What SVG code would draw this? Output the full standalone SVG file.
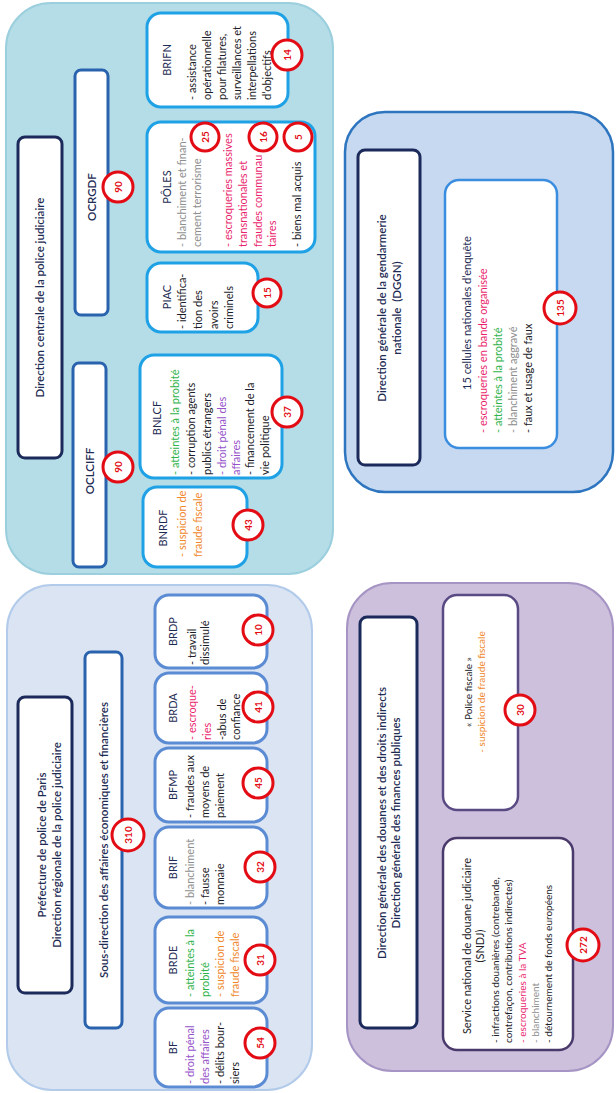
<svg xmlns="http://www.w3.org/2000/svg" width="616" height="1093" viewBox="0 0 616 1093">
<style>
text{font-family:Lato,"Liberation Sans",sans-serif;font-size:11px;fill:#1c1c28}
.m{text-anchor:middle}
.ttl{font-size:11.5px;fill:#1d2b53;font-weight:600}
.hd{font-size:11px;fill:#1d2b53}
.oc{font-size:11.5px;fill:#1d2b53;font-weight:600}
.sm{font-size:10px}
.gr{fill:#8e8e8e}.gn{fill:#2fb34b}.pu{fill:#9552c9}.or{fill:#f0872a}.pk{fill:#ea1f6e}
.tb{fill:#fff;stroke:#1b2a5a;stroke-width:3}
.ob{fill:#fff;stroke:#2a63ad;stroke-width:3}
.cb{fill:#fff;stroke:#1fa1e6;stroke-width:3}
.pb{fill:#fff;stroke:#5b8bd3;stroke-width:3}
.nc circle{fill:#fff;stroke:#e30c14;stroke-width:3}
.nc text{font-size:10px;font-weight:bold;fill:#e30c14;text-anchor:middle}
</style>
<g transform="translate(0,1093) rotate(-90)">
<g id="connectors"/>
<!-- Direction centrale de la police judiciaire -->
<g id="dcpj">
<rect x="519" y="6" width="571" height="327" rx="45" fill="#b5dde7" stroke="#9ccfdd" stroke-width="2"/>
<rect class="tb" x="635" y="18" width="321" height="44" rx="7"/>
<text class="ttl m" x="795.5" y="44">Direction centrale de la police judiciaire</text>
</g>
<g id="ocrgdf">
<rect class="ob" x="778" y="75" width="245" height="33" rx="6"/>
<text class="oc m" x="896" y="95.5">OCRGDF</text>
<g class="nc"><circle cx="906" cy="118" r="15"/><text x="906" y="121.5">90</text></g>
</g>
<g id="oclciff">
<rect class="ob" x="526" y="73" width="204" height="33" rx="6"/>
<text class="oc m" x="622" y="93.5">OCLCIFF</text>
<g class="nc"><circle cx="626" cy="118" r="15"/><text x="626" y="121.5">90</text></g>
</g>
<g id="brifn">
<rect class="cb" x="986" y="147" width="94" height="141" rx="14"/>
<text class="hd m" x="1033" y="171">BRIFN</text>
<text x="993" y="196">- assistance</text>
<text x="993" y="211">opérationnelle</text>
<text x="993" y="226">pour filatures,</text>
<text x="993" y="241">surveillances et</text>
<text x="993" y="256">interpellations</text>
<text x="993" y="271">d’objectifs</text>
<g class="nc"><circle cx="1038" cy="287" r="15"/><text x="1038" y="290.5">14</text></g>
</g>
<g id="poles">
<rect class="cb" x="841" y="147" width="130" height="168" rx="14"/>
<text class="hd m" x="906" y="171">PÔLES</text>
<text class="gr" x="846" y="186">- blanchiment et finan-</text>
<text class="gr" x="846" y="201">cement terrorisme</text>
<text class="pk" x="846" y="232">- escroqueries massives</text>
<text class="pk" x="846" y="247">transnationales et</text>
<text class="pk" x="846" y="262">fraudes communau</text>
<text class="pk" x="846" y="276">taires</text>
<text x="846" y="301">- biens mal acquis</text>
<g class="nc"><circle cx="956" cy="205" r="14"/><text x="956" y="208.5">25</text></g>
<g class="nc"><circle cx="956" cy="263" r="14"/><text x="956" y="266.5">16</text></g>
<g class="nc"><circle cx="956" cy="298" r="14"/><text x="956" y="301.5">5</text></g>
</g>
<g id="piac">
<rect class="cb" x="761" y="147" width="69" height="111" rx="14"/>
<text class="hd m" x="796" y="171">PIAC</text>
<text x="764" y="186">- identifica-</text>
<text x="764" y="202">tion des</text>
<text x="764" y="218">avoirs</text>
<text x="764" y="233">criminels</text>
<g class="nc"><circle cx="800" cy="267" r="14"/><text x="800" y="270.5">15</text></g>
</g>
<g id="bnlcf">
<rect class="cb" x="615" y="140" width="123" height="142" rx="14"/>
<text class="hd m" x="675" y="161">BNLCF</text>
<text class="gn" x="618" y="179">- atteintes à la probité</text>
<text x="618" y="195">- corruption agents</text>
<text x="618" y="211">publics étrangers</text>
<text class="pu" x="618" y="226">- droit pénal des</text>
<text class="pu" x="618" y="240">affaires</text>
<text x="618" y="254">- financement de la</text>
<text x="618" y="269">vie politique</text>
<g class="nc"><circle cx="681" cy="287" r="15"/><text x="681" y="290.5">37</text></g>
</g>
<g id="bnrdf">
<rect class="cb" x="526" y="143" width="80" height="104" rx="14"/>
<text class="hd m" x="565" y="167">BNRDF</text>
<text class="or" x="536" y="186">- suspicion de</text>
<text class="or" x="536" y="202">fraude fiscale</text>
<g class="nc"><circle cx="568" cy="248" r="15"/><text x="568" y="251.5">43</text></g>
</g>
<!-- DGGN -->
<g id="dggn">
<rect x="601" y="345" width="380" height="268" rx="40" fill="#c6d9f0" stroke="#2e75c0" stroke-width="2.5"/>
<rect class="tb" x="628" y="358" width="315" height="62" rx="7"/>
<text class="ttl m" x="785" y="386">Direction générale de la gendarmerie</text>
<text class="ttl m" x="785" y="401" style="white-space:pre">nationale  (DGGN)</text>
</g>
<g id="cellules">
<rect x="645" y="445" width="268" height="112" rx="14" fill="#fff" stroke="#3b8de0" stroke-width="2.5"/>
<text class="hd m" x="780" y="471">15 cellules nationales d’enquête</text>
<text class="pk" x="660" y="487">- escroqueries en bande organisée</text>
<text class="gn" x="660" y="502">- atteintes à la probité</text>
<text class="gr" x="660" y="517">- blanchiment aggravé</text>
<text x="660" y="532">- faux et usage de faux</text>
<g class="nc"><circle cx="785" cy="560" r="16"/><text x="785" y="563.5">135</text></g>
</g>
<!-- Préfecture de police de Paris -->
<g id="prefecture">
<rect x="3" y="7" width="505" height="305" rx="45" fill="#dae4f2" stroke="#b3cbea" stroke-width="2"/>
<rect class="tb" x="100" y="18" width="296" height="54" rx="7"/>
<text class="ttl m" x="248" y="46">Préfecture de police de Paris</text>
<text class="ttl m" x="248" y="61">Direction régionale de la police judiciaire</text>
</g>
<g id="sdaef">
<rect class="ob" x="65" y="85" width="376" height="37" rx="6"/>
<text class="ttl m" x="253" y="107.5">Sous-direction des affaires économiques et financières</text>
<g class="nc"><circle cx="258" cy="128" r="16"/><text x="258" y="131.5">310</text></g>
</g>
<g id="brdp">
<rect class="pb" x="425" y="155" width="73" height="112" rx="14"/>
<text class="hd m" x="461.5" y="177">BRDP</text>
<text x="428" y="196">- travail</text>
<text x="428" y="209">dissimulé</text>
<g class="nc"><circle cx="463" cy="258" r="15"/><text x="463" y="261.5">10</text></g>
</g>
<g id="brda">
<rect class="pb" x="350" y="155" width="70" height="112" rx="14"/>
<text class="hd m" x="385" y="177">BRDA</text>
<text class="pk" x="353" y="196">- escroque-</text>
<text class="pk" x="353" y="211">ries</text>
<text x="353" y="226">-abus de</text>
<text x="353" y="240">confiance</text>
<g class="nc"><circle cx="386" cy="258" r="15"/><text x="386" y="261.5">41</text></g>
</g>
<g id="bfmp">
<rect class="pb" x="271" y="155" width="74" height="112" rx="14"/>
<text class="hd m" x="308" y="177">BFMP</text>
<text x="275" y="194">- fraudes aux</text>
<text x="275" y="209">moyens de</text>
<text x="275" y="224">paiement</text>
<g class="nc"><circle cx="310" cy="258" r="15"/><text x="310" y="261.5">45</text></g>
</g>
<g id="brif">
<rect class="pb" x="185" y="155" width="81" height="112" rx="14"/>
<text class="hd m" x="225.5" y="177">BRIF</text>
<text class="gr" x="188" y="194">- blanchiment</text>
<text x="188" y="209">- fausse</text>
<text x="188" y="224">monnaie</text>
<g class="nc"><circle cx="226" cy="260" r="15"/><text x="226" y="263.5">32</text></g>
</g>
<g id="brde">
<rect class="pb" x="90" y="155" width="86" height="112" rx="14"/>
<text class="hd m" x="133" y="177">BRDE</text>
<text class="gn" x="96" y="194">- atteintes à la</text>
<text class="gn" x="96" y="209">probité</text>
<text class="or" x="96" y="224">- suspicion de</text>
<text class="or" x="96" y="239">fraude fiscale</text>
<g class="nc"><circle cx="133" cy="260" r="15"/><text x="133" y="263.5">31</text></g>
</g>
<g id="bf">
<rect class="pb" x="6" y="155" width="79" height="112" rx="14"/>
<text class="hd m" x="45.5" y="177">BF</text>
<text class="pu" x="9" y="194">- droit pénal</text>
<text class="pu" x="9" y="209">des affaires</text>
<text x="9" y="224">- délits bour-</text>
<text x="9" y="239">siers</text>
<g class="nc"><circle cx="50" cy="260" r="15"/><text x="50" y="263.5">54</text></g>
</g>
<!-- Douanes / Finances publiques -->
<g id="dgddi">
<rect x="22" y="347" width="488" height="266" rx="45" fill="#ccc0dc" stroke="#a594c4" stroke-width="2"/>
<rect class="tb" x="65" y="360" width="411" height="57" rx="7"/>
<text class="ttl m" x="270" y="386">Direction générale des douanes et des droits indirects</text>
<text class="ttl m" x="270" y="400">Direction générale des finances publiques</text>
</g>
<g id="police-fiscale">
<rect x="283" y="443" width="215" height="75" rx="14" fill="#fff" stroke="#5a4a84" stroke-width="2.5"/>
<text class="sm m" x="401" y="472">« Police fiscale »</text>
<text class="sm m or" x="401" y="485">- suspicion de fraude fiscale</text>
<g class="nc"><circle cx="383" cy="520" r="15"/><text x="383" y="523.5">30</text></g>
</g>
<g id="sndj">
<rect x="43" y="443" width="212" height="130" rx="14" fill="#fff" stroke="#4a3a6c" stroke-width="2.5"/>
<text class="m" x="147" y="471">Service national de douane judiciaire</text>
<text class="m" x="147" y="484">(SNDJ)</text>
<text class="sm" x="50" y="499">- infractions douanières (contrebande,</text>
<text class="sm" x="50" y="512">contrefaçon, contributions indirectes)</text>
<text class="sm pk" x="50" y="526">- escroqueries à la TVA</text>
<text class="sm gr" x="50" y="539">- blanchiment</text>
<text class="sm" x="50" y="552">- détournement de fonds européens</text>
<g class="nc"><circle cx="148" cy="583" r="16"/><text x="148" y="586.5">272</text></g>
</g>
</g>
</svg>
